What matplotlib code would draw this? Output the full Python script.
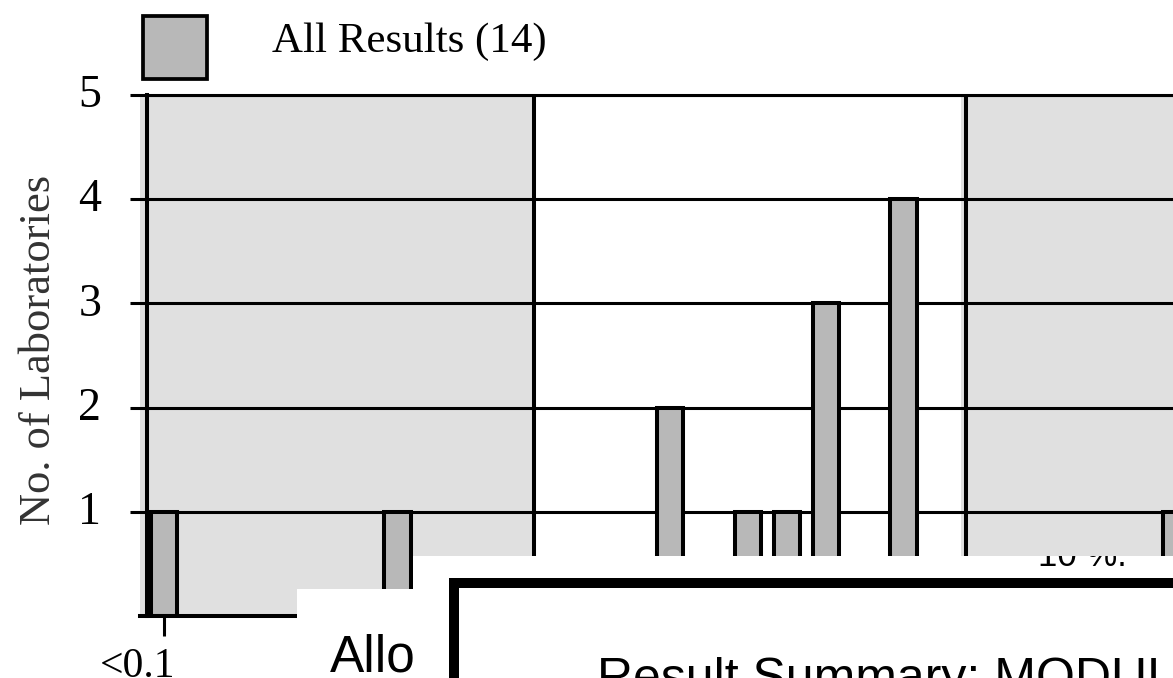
import matplotlib
matplotlib.use("Agg")
import matplotlib.pyplot as plt
from matplotlib.patches import Rectangle
from matplotlib.transforms import Bbox, TransformedBbox, ScaledTranslation

# ---------------- data ----------------
bin_positions = [0, 6, 13, 15, 16, 17, 19, 26]
lab_counts = [1, 1, 2, 1, 1, 3, 4, 1]
x_tick_positions = [0]
x_tick_labels = ["<0.1"]
y_ticks = [1, 2, 3, 4, 5]
series_label = "All Results"
y_label = "No. of Laboratories"
limit_low = 9.5
limit_high = 20.6
overlay_left_text = "Allo"
overlay_box_title = "Result Summary: MODUL"
overlay_note = "10 %."

# ---------------- layout helpers ----------------
W, H, DPI = 1173, 678, 100
plt.rcParams["font.family"] = ["Liberation Serif", "DejaVu Serif"]

fig = plt.figure(figsize=(W / DPI, H / DPI), dpi=DPI, facecolor="white")

def rect_px(x0, y0, x1, y1, **kw):
    return Rectangle((x0 / W, 1 - y1 / H), (x1 - x0) / W, (y1 - y0) / H,
                     transform=fig.transFigure, **kw)

def bbox_px(x0, y0, x1, y1):
    return TransformedBbox(Bbox([[x0 / W, 1 - y1 / H], [x1 / W, 1 - y0 / H]]),
                           fig.transFigure)

AX_L, AX_R, AX_T, AX_B = 146.5, 1400, 95, 616
BIN_PX = 38.93
ORIGIN_PX = 164
ax = fig.add_axes([AX_L / W, (H - AX_B) / H, (AX_R - AX_L) / W, (AX_B - AX_T) / H])
ax.set_xlim((AX_L - ORIGIN_PX) / BIN_PX, (AX_R - ORIGIN_PX) / BIN_PX)
ax.set_ylim(0, 5)

# shaded regions outside the limits
left_edge = (140 - ORIGIN_PX) / BIN_PX
ax.axvspan(left_edge, limit_low, color="#E0E0E0", zorder=0.2, clip_on=False, lw=0)
ax.axvspan(limit_high - 0.12, 40, color="#E0E0E0", zorder=0.2, lw=0)

# grid
ax.set_axisbelow(True)
ax.set_yticks(y_ticks)
ax.yaxis.grid(True, color="black", lw=2.2, zorder=0.5)
ax.tick_params(axis="y", length=12.6, width=2.2, direction="out", pad=20,
               labelsize=33, colors="black")

# bars
ax.bar(bin_positions, lab_counts, width=0.68, color="#B8B8B8",
       edgecolor="black", linewidth=2.9, zorder=3)

# limit lines
for xv in (limit_low, limit_high):
    ax.axvline(xv, color="black", lw=2.9, zorder=2)

# spines
for s in ("right", "bottom"):
    ax.spines[s].set_visible(False)
ax.spines["top"].set_linewidth(2.2)
ax.spines["left"].set_linewidth(2.9)
ax.plot([left_edge, 40], [0, 0], color="black", lw=2.9, clip_on=False, zorder=5)

# x ticks
ax.set_xticks(x_tick_positions, x_tick_labels)
ax.tick_params(axis="x", length=14.4, width=2.2, direction="out", pad=8, labelsize=30)
for lab in ax.get_xticklabels():
    lab.set_transform(lab.get_transform() + ScaledTranslation(-0.26, 0, fig.dpi_scale_trans))
for lab in ax.get_yticklabels():
    lab.set_transform(lab.get_transform() + ScaledTranslation(0, 0.04, fig.dpi_scale_trans))

# y label
ax.set_ylabel(y_label, fontsize=32, color="#333333")
ax.yaxis.label.set(va="baseline", ha="center", rotation_mode="anchor")
ax.yaxis.set_label_coords((50 - AX_L) / (AX_R - AX_L), (AX_B - 350) / (AX_B - AX_T))

# legend
fig.add_artist(rect_px(143, 16, 207, 79, facecolor="#B8B8B8", edgecolor="black", lw=2.7))
fig.text(272 / W, 1 - 52 / H, f"{series_label} ({sum(lab_counts)})", fontsize=31,
         va="baseline", ha="left")

# overlapping page elements
fig.add_artist(rect_px(297, 589, 413, 760, facecolor="white", edgecolor="none", zorder=10))
fig.add_artist(rect_px(413, 556, 1400, 760, facecolor="white", edgecolor="none", zorder=10))
fig.add_artist(rect_px(454, 583, 1500, 800, facecolor="white", edgecolor="black",
                       lw=7.2, zorder=11))

t1 = fig.text(330 / W, 1 - 672 / H, overlay_left_text, fontsize=37,
              family=["Liberation Sans", "DejaVu Sans"], va="baseline", zorder=12)
t1.set_clip_box(bbox_px(297, 589, 413, 700))
t1.set_clip_on(True)

t2 = fig.text(1038 / W, 1 - 566 / H, overlay_note, fontsize=25,
              family=["Liberation Sans", "DejaVu Sans"], va="baseline", zorder=12)
t2.set_clip_box(bbox_px(413, 556, 1400, 700))
t2.set_clip_on(True)

fig.text(597 / W, 1 - 693 / H, overlay_box_title, fontsize=36,
         family=["Liberation Sans", "DejaVu Sans"], va="baseline", zorder=12)

fig.savefig("out.png", dpi=DPI, facecolor="white")
